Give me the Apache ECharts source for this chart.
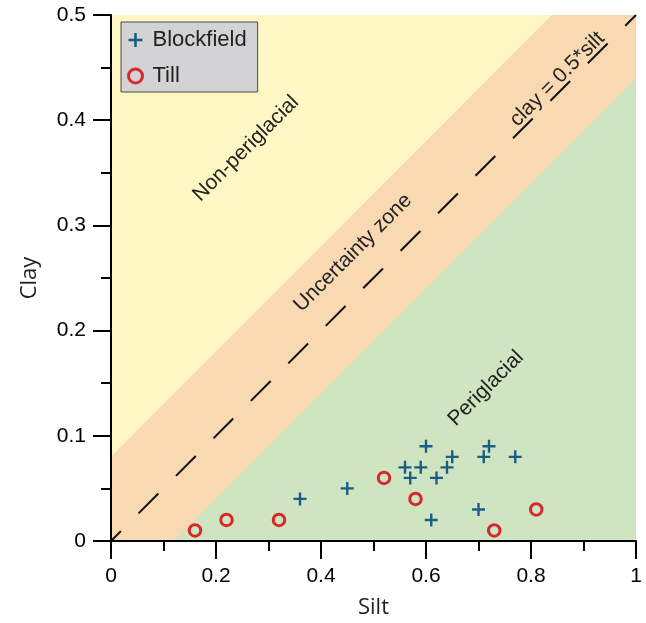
<!DOCTYPE html>
<html>
<head>
<meta charset="utf-8">
<script src="https://cdn.jsdelivr.net/npm/echarts@6/dist/echarts.min.js"></script>
<style>
html,body{margin:0;padding:0;background:#fff;}
#chart{width:646px;height:623px;}
</style>
</head>
<body>
<div id="chart"></div>
<script>
// ---- data ----
const blockfieldSilt = [0.36, 0.45, 0.60, 0.56, 0.59, 0.57, 0.62, 0.64, 0.65, 0.72, 0.71, 0.77, 0.61, 0.70];
const blockfieldClay = [0.04, 0.05, 0.09, 0.07, 0.07, 0.06, 0.06, 0.07, 0.08, 0.09, 0.08, 0.08, 0.02, 0.03];
const tillSilt = [0.16, 0.22, 0.32, 0.52, 0.58, 0.73, 0.81];
const tillClay = [0.01, 0.02, 0.02, 0.06, 0.04, 0.01, 0.03];

const yellowZone = [[0, 0.08], [0, 0.5], [0.84, 0.5]];
const orangeZone = [[0, 0], [0, 0.5], [1, 0.5], [1, 0]];
const greenZone = [[0.12, 0], [1, 0.44], [1, 0]];
const ratioLine = [[0, 0], [1, 0.5]];

const xTicks = [0, 0.2, 0.4, 0.6, 0.8, 1];
const yTicks = [0, 0.1, 0.2, 0.3, 0.4, 0.5];

const annotations = [
  {text: 'Non-periglacial', silt: 0.257, clay: 0.373},
  {text: 'Uncertainty zone', silt: 0.461, clay: 0.274},
  {text: 'clay = 0.5*silt', silt: 0.850, clay: 0.439},
  {text: 'Periglacial', silt: 0.714, clay: 0.145}
];

// ---- chart ----
const chart = echarts.init(document.getElementById('chart'), null, {renderer: 'canvas'});

const zoneSeries = (zone, color) => ({
  type: 'custom',
  silent: true,
  z: 1,
  data: [[0, 0]],
  renderItem: (params, api) => ({
    type: 'polygon',
    shape: {points: zone.map(p => api.coord(p))},
    style: {fill: color}
  })
});

const plusPath = 'path://M5.3,0h2.4v5.3h5.3v2.4h-5.3v5.3h-2.4v-5.3h-5.3v-2.4h5.3z';
const blue = '#1c5d85';
const red = '#d7282e';
const tickFont = 'Liberation Sans, Arial, sans-serif';
const nameFont = 'Open Sans, Noto Sans, sans-serif';

const axisCommon = {
  type: 'value',
  z: 5,
  splitLine: {show: false},
  axisLine: {show: true, onZero: false, lineStyle: {color: '#000', width: 2}},
  axisTick: {show: true, inside: false, length: 18, lineStyle: {color: '#000', width: 2}},
  minorTick: {show: true, splitNumber: 2, length: 10, lineStyle: {color: '#000', width: 2}},
  axisLabel: {color: '#000', fontSize: 21, fontFamily: tickFont, margin: 25,
    formatter: v => String(+v.toFixed(2))},
  nameTextStyle: {color: '#222', fontSize: 22, fontFamily: nameFont},
  nameLocation: 'middle'
};

chart.setOption({
  animation: false,
  backgroundColor: '#ffffff',
  grid: {left: 111, right: 10, top: 15, bottom: 82, containLabel: false, outerBoundsMode: 'none'},
  xAxis: Object.assign({}, axisCommon, {
    min: xTicks[0], max: xTicks[xTicks.length - 1], interval: 0.2,
    name: 'Silt', nameGap: 56
  }),
  yAxis: Object.assign({}, axisCommon, {
    min: yTicks[0], max: yTicks[yTicks.length - 1], interval: 0.1,
    name: 'Clay', nameGap: 70
  }),
  legend: {
    orient: 'vertical',
    left: 121, top: 22,
    backgroundColor: '#d3d3d5',
    borderColor: '#4a4a4a',
    borderWidth: 1,
    borderRadius: 0,
    padding: [7, 11, 5, 6],
    itemWidth: 24, itemHeight: 14, itemGap: 14,
    textStyle: {fontSize: 22, color: '#222', fontFamily: tickFont},
    data: [
      {name: 'Blockfield', icon: plusPath, itemStyle: {color: blue, borderWidth: 0}},
      {name: 'Till', icon: 'circle', itemStyle: {color: 'transparent', borderColor: red, borderWidth: 3}}
    ],
    z: 20
  },
  series: [
    zoneSeries(orangeZone, '#f9d9b1'),
    zoneSeries(yellowZone, '#fef7c3'),
    zoneSeries(greenZone, '#cfe5c1'),
    {
      type: 'line', z: 3, silent: true, symbol: 'none',
      data: ratioLine,
      lineStyle: {color: '#111', width: 2, type: [28, 25], dashOffset: 14}
    },
    {
      name: 'Blockfield', type: 'scatter', z: 4,
      symbol: plusPath, symbolSize: 13,
      itemStyle: {color: blue, borderWidth: 0, opacity: 1},
      data: blockfieldSilt.map((s, i) => [s, blockfieldClay[i]])
    },
    {
      name: 'Till', type: 'scatter', z: 4,
      symbol: 'circle', symbolSize: 11.5,
      itemStyle: {color: 'transparent', borderColor: red, borderWidth: 3, opacity: 1},
      data: tillSilt.map((s, i) => [s, tillClay[i]])
    }
  ]
});

const graphics = annotations.map(a => {
  const p = chart.convertToPixel({gridIndex: 0}, [a.silt, a.clay]);
  return {
    type: 'text', x: p[0], y: p[1], rotation: Math.PI / 4, z: 10,
    style: {text: a.text, fill: '#222', fontSize: 21, fontFamily: tickFont,
      align: 'center', verticalAlign: 'middle'}
  };
});
chart.setOption({graphic: graphics});
</script>
</body>
</html>
